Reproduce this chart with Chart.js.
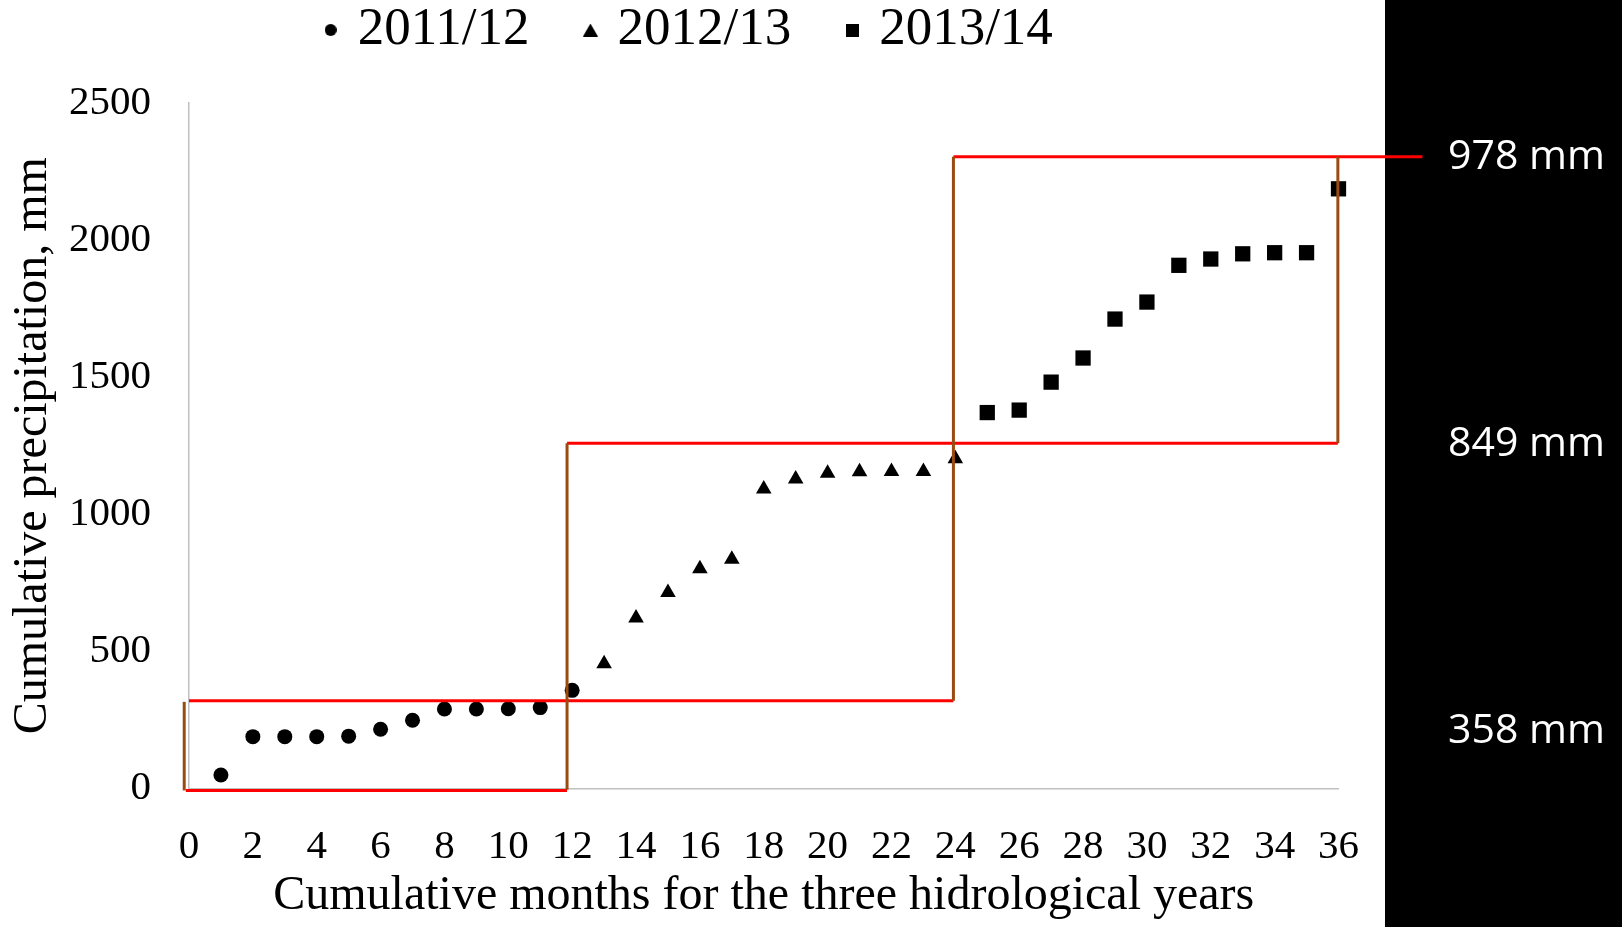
<!DOCTYPE html>
<html>
<head>
<meta charset="utf-8">
<script src="https://cdn.jsdelivr.net/npm/chart.js@4.4.1/dist/chart.umd.min.js"></script>
<style>
  html, body { margin: 0; padding: 0; background: #ffffff; }
  #wrap { position: relative; width: 1622px; height: 927px; overflow: hidden; background: #ffffff; }
  #panel { position: absolute; left: 1385px; top: 0; width: 237px; height: 927px; background: #000000; }
  #c { position: absolute; left: 0; top: 0; }
  .note { position: absolute; left: 1448px; height: 50px; line-height: 50px; color: #ffffff;
          font-family: 'Open Sans', 'Noto Sans', sans-serif; font-size: 41px; white-space: nowrap; }
</style>
</head>
<body>
<div id="wrap">
  <div id="panel"></div>
  <canvas id="c" width="1622" height="927"></canvas>
</div>
<script>
// ---------------- data ----------------
const seriesNames = ['2011/12', '2012/13', '2013/14'];
const months1 = [1, 2, 3, 4, 5, 6, 7, 8, 9, 10, 11, 12];
const precip1 = [49, 189, 189, 189, 191, 216, 249, 290, 290, 291, 295, 358];
const months2 = [13, 14, 15, 16, 17, 18, 19, 20, 21, 22, 23, 24];
const precip2 = [455, 622, 715, 801, 836, 1092, 1129, 1150, 1155, 1156, 1156, 1203];
const months3 = [25, 26, 27, 28, 29, 30, 31, 32, 33, 34, 35, 36];
const precip3 = [1371, 1380, 1482, 1570, 1712, 1774, 1908, 1931, 1950, 1954, 1954, 2187];

// box outlines (in data units: month, mm)
const redSegX = [[-0.1, 11.84], [0, 23.94], [11.84, 35.98], [23.94, 38.63]];
const redSegY = [[-7, -7], [320, 320], [1259, 1259], [2304, 2304]];
const brownSegX = [[-0.15, -0.15], [11.84, 11.84], [23.94, 23.94], [35.98, 35.98]];
const brownSegY = [[-7, 316], [-5, 1259], [320, 2304], [1259, 2304]];

// axis ticks / texts
const xTickMin = 0, xTickMax = 36, xTickStep = 2;
const yTickMin = 0, yTickMax = 2500, yTickStep = 500;
const xTitle = 'Cumulative months for the three hidrological years';
const yTitle = 'Cumulative precipitation, mm';
const noteLabels = ['978 mm', '849 mm', '358 mm'];
const noteTops = [128, 415, 702];

// ---------------- build ----------------
const toPoints = (xs, ys) => xs.map((x, i) => ({ x: x, y: ys[i] }));
const serif = "'Liberation Serif', 'Times New Roman', serif";

const pointStyles = ['circle', 'triangle', 'rect'];
const pointRadii = [7.5, 9, 10.8];
const seriesData = [toPoints(months1, precip1), toPoints(months2, precip2), toPoints(months3, precip3)];

// small legend glyphs
function legendGlyph(kind) {
  const c = document.createElement('canvas');
  const w = kind === 'triangle' ? 15 : (kind === 'circle' ? 12 : 13);
  const h = kind === 'circle' ? 12 : 13;
  c.width = w; c.height = h;
  const g = c.getContext('2d');
  g.fillStyle = '#000000';
  g.beginPath();
  if (kind === 'circle') g.arc(w / 2, h / 2, w / 2, 0, Math.PI * 2);
  else if (kind === 'triangle') { g.moveTo(w / 2, 0); g.lineTo(w, h); g.lineTo(0, h); g.closePath(); }
  else g.rect(0, 0, w, h);
  g.fill();
  return c;
}
const legendGlyphs = pointStyles.map(legendGlyph);

const datasets = [];
brownSegX.forEach((xs, i) => {
  datasets.push({
    isBox: true, label: 'b' + i, data: toPoints(xs, brownSegY[i]),
    showLine: true, borderColor: '#9a4b12', borderWidth: 3, pointRadius: 0,
    fill: false, clip: false, order: 0, borderCapStyle: 'butt'
  });
});
redSegX.forEach((xs, i) => {
  datasets.push({
    isBox: true, label: 'r' + i, data: toPoints(xs, redSegY[i]),
    showLine: true, borderColor: '#ff0000', borderWidth: 3, pointRadius: 0,
    fill: false, clip: false, order: 1, borderCapStyle: 'butt'
  });
});
seriesNames.forEach((name, i) => {
  datasets.push({
    label: name, data: seriesData[i], showLine: false, seriesIndex: i,
    pointStyle: pointStyles[i], pointRadius: pointRadii[i], pointHoverRadius: pointRadii[i],
    backgroundColor: '#000000', borderColor: '#000000', borderWidth: 0,
    pointBackgroundColor: '#000000', pointBorderColor: '#000000', pointBorderWidth: 0,
    clip: false, order: 2
  });
});

const LEGEND_HEIGHT = 160;
const legendHeightFix = {
  id: 'legendHeightFix',
  beforeLayout(chart) {
    const lg = chart.legend;
    if (lg && !lg.__fixed) {
      const orig = lg.fit;
      lg.fit = function () { orig.call(this); this.height = LEGEND_HEIGHT; };
      lg.__fixed = true;
    }
  }
};

new Chart(document.getElementById('c'), {
  type: 'scatter',
  data: { datasets: datasets },
  plugins: [legendHeightFix],
  options: {
    responsive: false,
    animation: false,
    devicePixelRatio: 1,
    events: [],
    layout: { padding: { top: -57, left: 0, right: 239, bottom: 0 } },
    plugins: {
      tooltip: { enabled: false },
      legend: {
        display: true,
        position: 'top',
        labels: {
          usePointStyle: true,
          boxWidth: 1,
          boxHeight: 10,
          padding: 60.5,
          color: '#000000',
          font: { family: serif, size: 53 },
          filter: (item, data) => !data.datasets[item.datasetIndex].isBox,
          generateLabels: (chart) => {
            const items = Chart.defaults.plugins.legend.labels.generateLabels(chart);
            items.forEach((it) => {
              const ds = chart.data.datasets[it.datasetIndex];
              if (!ds.isBox) { it.pointStyle = legendGlyphs[ds.seriesIndex]; it.lineWidth = 0; }
            });
            return items;
          }
        }
      }
    },
    scales: {
      x: {
        type: 'linear', position: 'bottom',
        min: xTickMin, max: xTickMax,
        ticks: { stepSize: xTickStep, color: '#000000', padding: 34, maxRotation: 0,
                 autoSkip: false, font: { family: serif, size: 41 },
                 callback: (v) => String(v) },
        grid: { display: false, drawTicks: false },
        border: { display: true, color: '#c0c0c0', width: 1.5 },
        title: { display: true, text: xTitle, color: '#000000',
                 font: { family: serif, size: 48 }, padding: { top: 0, bottom: 2 } },
        afterFit: (s) => { s.height = 138.5; }
      },
      y: {
        type: 'linear', position: 'left',
        min: yTickMin, max: yTickMax,
        ticks: { stepSize: yTickStep, color: '#000000', padding: 38,
                 font: { family: serif, size: 41 },
                 callback: (v) => String(v) },
        grid: { display: false, drawTicks: false },
        border: { display: true, color: '#c0c0c0', width: 1.5 },
        title: { display: true, text: yTitle, color: '#000000',
                 font: { family: serif, size: 48 }, padding: { top: 4.4, bottom: 0 } },
        afterFit: (s) => { s.width = 189; }
      },
      ySpacer: {
        type: 'linear', position: 'right', display: true,
        ticks: { display: false }, grid: { display: false, drawTicks: false },
        border: { display: false }, title: { display: false },
        afterFit: (s) => { s.width = 44.5; }
      }
    }
  }
});

// side notes
const wrap = document.getElementById('wrap');
noteLabels.forEach((t, i) => {
  const d = document.createElement('div');
  d.className = 'note';
  d.style.top = noteTops[i] + 'px';
  d.textContent = t;
  wrap.appendChild(d);
});
</script>
</body>
</html>
